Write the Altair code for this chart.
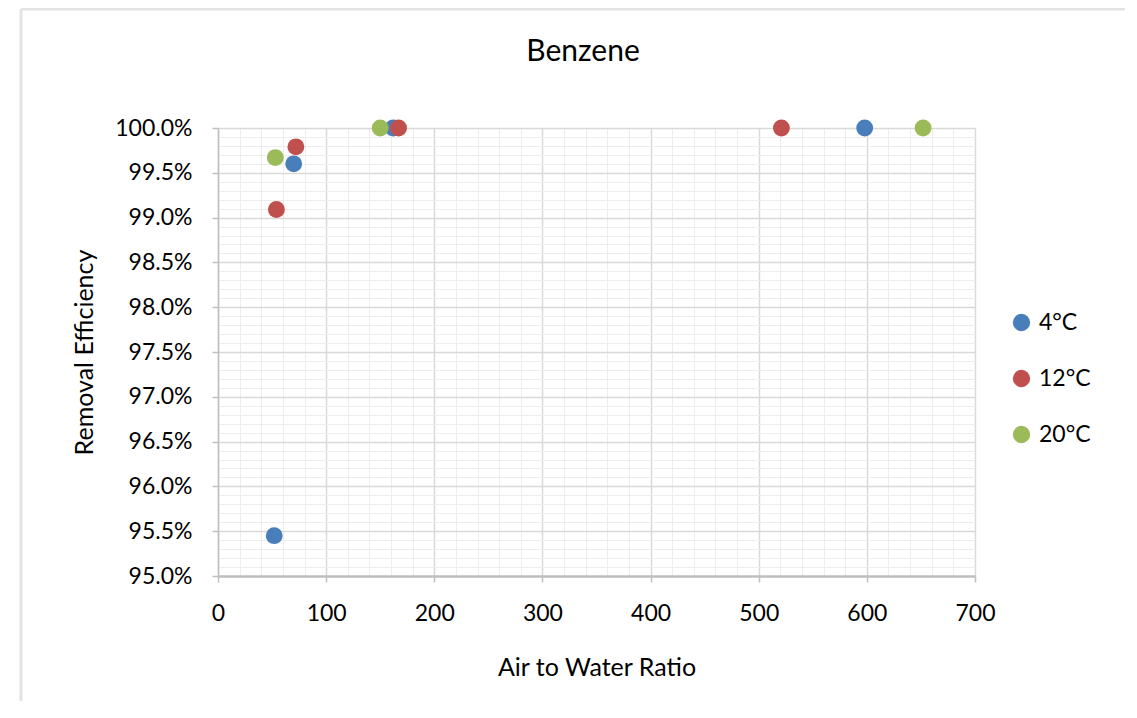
import altair as alt
import pandas as pd

title_text = "Benzene"
series = ["4°C", "4°C", "4°C", "4°C",
          "12°C", "12°C", "12°C", "12°C",
          "20°C", "20°C", "20°C"]
air_to_water = [52, 70, 162, 598,
                54, 72, 167, 521,
                53, 150, 652]
removal = [0.9545, 0.9960, 1.0000, 1.0000,
           0.9909, 0.9979, 1.0000, 1.0000,
           0.9967, 1.0000, 1.0000]

series_order = ["4°C", "12°C", "20°C"]
series_colors = ["#4A7EBB", "#C0504D", "#9BBB59"]

x_major = [0, 100, 200, 300, 400, 500, 600, 700]
x_minor = [v for v in range(0, 701, 20)]
y_major = [0.95 + 0.005 * i for i in range(11)]
y_minor = [0.95 + 0.001 * i for i in range(51)]

df = pd.DataFrame({"series": series, "x": air_to_water, "y": removal})
title_df = pd.DataFrame({"t": [title_text]})

FONT = "Lato"
xscale = alt.Scale(domain=[0, 700], nice=False, zero=False)
yscale = alt.Scale(domain=[0.95, 1.0], nice=False, zero=False)

base = alt.Chart(df)

minor = base.mark_point(opacity=0).encode(
    x=alt.X("x:Q", scale=xscale,
            axis=alt.Axis(orient="top", values=x_minor, grid=True, gridColor="#EDEDED",
                          gridWidth=1, labels=False, ticks=False, domain=False, title=None)),
    y=alt.Y("y:Q", scale=yscale,
            axis=alt.Axis(orient="right", values=y_minor, grid=True, gridColor="#EDEDED",
                          gridWidth=1, labels=False, ticks=False, domain=False, title=None)),
)

points = base.mark_circle(size=285, opacity=1).encode(
    x=alt.X("x:Q", scale=xscale,
            axis=alt.Axis(orient="bottom", values=x_major, grid=True, gridColor="#D9D9D9",
                          gridWidth=1.5, domainColor="#BFBFBF", domainWidth=2.5,
                          tickColor="#BFBFBF", tickSize=6, tickWidth=1.5, labelFontSize=23,
                          labelColor="#000000", labelFont=FONT, labelPadding=20,
                          labelFlush=False,
                          title="Air to Water Ratio", titleFont=FONT, titleFontSize=25,
                          titleFontWeight="normal", titleColor="#000000", titlePadding=30)),
    y=alt.Y("y:Q", scale=yscale,
            axis=alt.Axis(orient="left", values=y_major, format=".1%", grid=True,
                          gridColor="#D9D9D9", gridWidth=1.5, domainColor="#BFBFBF",
                          domainWidth=1.5, tickColor="#BFBFBF", tickSize=6, tickWidth=1.5,
                          labelFontSize=23, labelColor="#000000", labelFont=FONT,
                          labelPadding=20, labelFlush=False,
                          title="Removal Efficiency", titleFont=FONT,
                          titleFontSize=25, titleFontWeight="normal", titleColor="#000000",
                          titlePadding=17)),
    color=alt.Color("series:N", sort=series_order,
                    scale=alt.Scale(domain=series_order, range=series_colors),
                    legend=alt.Legend(title=None, orient="none", legendX=792, legendY=183,
                                      symbolType="circle", symbolSize=300,
                                      labelFontSize=23, labelFont=FONT, labelColor="#000000",
                                      rowPadding=32, labelOffset=6)),
)

frame_left = alt.Chart(title_df).mark_rule(color="#E3E3E3", strokeWidth=3).encode(
    x=alt.value(-197), y=alt.value(-119), y2=alt.value(600))
frame_top = alt.Chart(title_df).mark_rule(color="#E3E3E3", strokeWidth=3).encode(
    x=alt.value(-197), x2=alt.value(930), y=alt.value(-119))

title_mark = alt.Chart(title_df).mark_text(
    font=FONT, fontSize=30, color="#000000", align="center", baseline="middle"
).encode(text="t:N", x=alt.value(365), y=alt.value(-76))

chart = alt.layer(frame_left, frame_top, minor, points, title_mark).resolve_axis(
    x="independent", y="independent"
).properties(
    width=757, height=448,
    autosize=alt.AutoSizeParams(type="none"),
    padding={"left": 210, "top": 120, "right": 150, "bottom": 125},
).configure_view(stroke=None)

chart.save("out.html", embed_options={"renderer": "svg", "actions": False})
